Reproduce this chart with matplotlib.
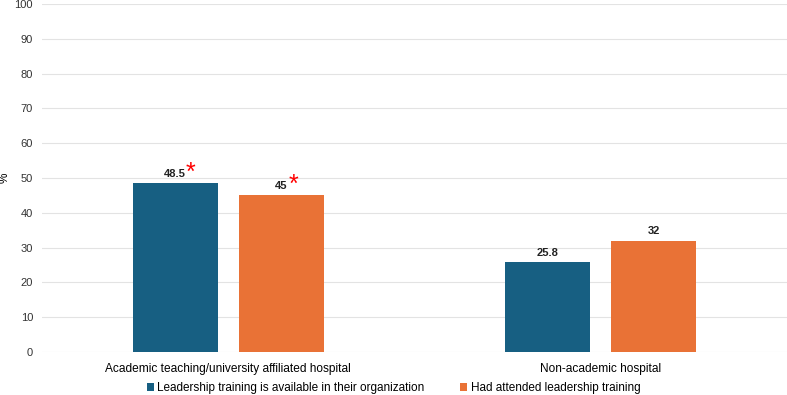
import numpy as np
import matplotlib as mpl
mpl.use('Agg')
import matplotlib.pyplot as plt

plt.rcParams['font.family'] = ['Liberation Sans', 'DejaVu Sans']

categories = ['Academic teaching/university affiliated hospital', 'Non-academic hospital']
series_names = ['Leadership training is available in their organization',
                'Had attended leadership training']
available = [48.5, 25.8]
attended = [45, 32]
value_labels = [['48.5', '25.8'], ['45', '32']]
significant = [[True, False], [True, False]]

colors = ['#175f82', '#e97236']

fig = plt.figure(figsize=(7.87, 3.95), dpi=100)
ax = fig.add_axes([42/787, 1-352/395, 745/787, 348/395])

x = np.arange(len(categories))
w = 0.228
off = 0.1425
for i, (vals, name) in enumerate(zip([available, attended], series_names)):
    pos = x + (-off if i == 0 else off)
    ax.bar(pos, vals, width=w, color=colors[i], label=name, zorder=3)
    for p, v, lab, sig in zip(pos, vals, value_labels[i], significant[i]):
        ax.text(p, v + 1.2, lab, ha='center', va='bottom', fontsize=8, fontweight='bold', color='#222222')
        if sig:
            tx = 0.029 if len(lab) > 2 else 0.019
            ax.text(p + tx, v - 0.5, '*', ha='left', va='bottom', fontsize=18, color='#ff0000')

ax.set_xlim(-0.5, 1.5)
ax.set_ylim(0, 100)
ax.set_yticks(np.arange(0, 101, 10))
ax.set_xticks(x)
ax.set_xticklabels(categories, fontsize=8.6)
ax.tick_params(axis='x', length=0, pad=8)
ax.tick_params(axis='y', length=0, labelsize=8, pad=6.5, labelcolor='#333333')
ax.grid(axis='y', color='#e3e3e3', linewidth=0.8, zorder=0)
for s in ax.spines.values():
    s.set_visible(False)
ax.set_ylabel('%', fontsize=8.5)
ax.yaxis.set_label_coords(-0.042, 0.5)

h, l = ax.get_legend_handles_labels()
fig.legend(h, l, loc='center', bbox_to_anchor=(0.5, 1-388/395), ncol=2, frameon=False,
           fontsize=8.5, handlelength=0.6, handleheight=0.6, handletextpad=0.3, columnspacing=3.0,
           borderpad=0)

fig.savefig('out.png', dpi=100)
plt.close()
